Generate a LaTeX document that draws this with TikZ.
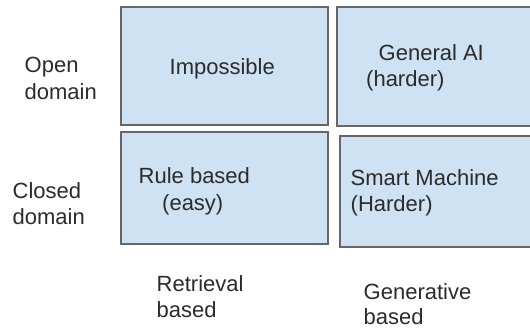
\documentclass[tikz,border=0pt]{standalone}
\usepackage{fontspec}
\setmainfont{Liberation Sans}
\usepackage{tikz}
\definecolor{cellblue}{HTML}{CFE2F3}
\definecolor{cellgray}{HTML}{666666}
\definecolor{textgray}{HTML}{2B2B2B}
\tikzstyle{cell}=[rectangle, draw=cellgray, fill=cellblue, line width=2pt, inner sep=0pt]
\tikzstyle{word}=[anchor=base west, inner sep=0pt, text=textgray, font=\fontsize{22}{27}\selectfont]

\begin{document}
\begin{tikzpicture}[x=1pt, y=1pt]
			\clip (0,0) rectangle (530,328);
			\fill[white] (0,0) rectangle (530,328);
			% quadrants
			\node[cell, minimum width=207pt, minimum height=118.5pt] (openret) at (224.5,261.75) {};
			\node[cell, minimum width=213pt, minimum height=119pt] (opengen) at (443.5,261.5) {};
			\node[cell, minimum width=207pt, minimum height=112pt] (closedret) at (224.5,140) {};
			\node[cell, minimum width=210.5pt, minimum height=110.5pt] (closedgen) at (444.75,136.25) {};
			% row labels
			\node[word] (open1) at (24.5,255.3) {Open};
			\node[word] (open2) at (24.5,228.7) {domain};
			\node[word] (closed1) at (12.5,129) {Closed};
			\node[word] (closed2) at (12.5,103) {domain};
			% cell texts
			\node[word] (imposs) at (169.5,253) {Impossible};
			\node[word] (genai1) at (378.5,267.3) {General AI};
			\node[word] (genai2) at (366,241) {(harder)};
			\node[word] (rule1) at (138.5,144.7) {Rule based};
			\node[word] (rule2) at (162,117.3) {(easy)};
			\node[word] (smart1) at (350.5,142) {Smart Machine};
			\node[word] (smart2) at (350.5,116.3) {(Harder)};
			% column labels
			\node[word] (retr1) at (156.5,36.3) {Retrieval};
			\node[word] (retr2) at (156.5,10) {based};
			\node[word] (gener1) at (363.5,28) {Generative};
			\node[word] (gener2) at (363.5,3) {based};
		\end{tikzpicture}
\end{document}
